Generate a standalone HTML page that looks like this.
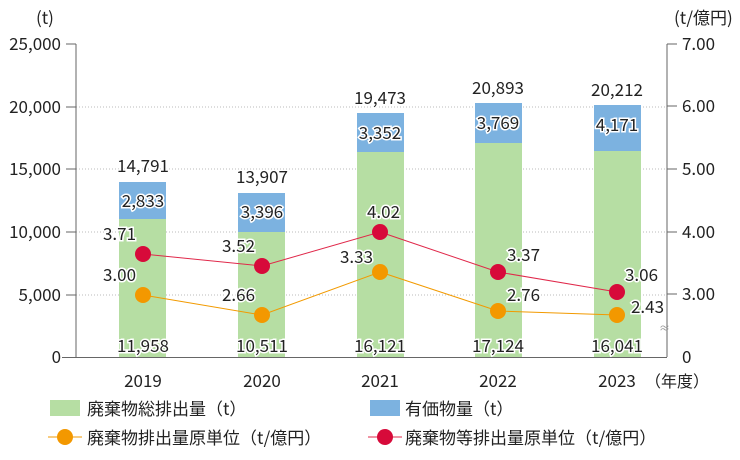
<!DOCTYPE html>
<html><head><meta charset="utf-8"><style>
html,body{margin:0;padding:0;background:#fff;}
svg{display:block;font-family:"Noto Sans CJK JP","Liberation Sans",sans-serif;}
</style></head><body>
<svg width="740" height="460" viewBox="0 0 740 460" xmlns="http://www.w3.org/2000/svg">
<g stroke="#bbb" stroke-dasharray="1,2" stroke-width="1">
<line x1="76" y1="295" x2="667" y2="295"/><line x1="76" y1="232" x2="667" y2="232"/>
<line x1="76" y1="169" x2="667" y2="169"/><line x1="76" y1="107" x2="667" y2="107"/>
</g>
<g>
<rect x="119" y="219" width="47" height="138" fill="#b6dea3"/><rect x="119" y="182" width="47" height="37" fill="#7cb2e0"/>
<rect x="238" y="232" width="47" height="125" fill="#b6dea3"/><rect x="238" y="193" width="47" height="39" fill="#7cb2e0"/>
<rect x="357" y="152" width="47" height="205" fill="#b6dea3"/><rect x="357" y="113" width="47" height="39" fill="#7cb2e0"/>
<rect x="475" y="143" width="47" height="214" fill="#b6dea3"/><rect x="475" y="103" width="47" height="40" fill="#7cb2e0"/>
<rect x="594" y="151" width="47" height="206" fill="#b6dea3"/><rect x="594" y="105" width="47" height="46" fill="#7cb2e0"/>
</g>
<g stroke="#666" stroke-width="1" fill="none">
<line x1="76" y1="44" x2="76" y2="357"/><line x1="667" y1="44" x2="667" y2="357"/>
<line x1="62" y1="357.5" x2="667" y2="357.5"/>
<line x1="66" y1="44" x2="76" y2="44"/><line x1="66" y1="107" x2="76" y2="107"/><line x1="66" y1="169" x2="76" y2="169"/><line x1="66" y1="232" x2="76" y2="232"/><line x1="66" y1="295" x2="76" y2="295"/>
<line x1="667" y1="44" x2="677" y2="44"/><line x1="667" y1="106" x2="677" y2="106"/><line x1="667" y1="169" x2="677" y2="169"/><line x1="667" y1="232" x2="677" y2="232"/><line x1="667" y1="294" x2="677" y2="294"/>
</g>
<text x="659" y="332" font-size="11" fill="#999">≈</text>
<g font-size="17" fill="#222" text-anchor="end">
<text x="61" y="50">25,000</text><text x="61" y="113">20,000</text><text x="61" y="175">15,000</text><text x="61" y="238">10,000</text><text x="61" y="301">5,000</text><text x="61" y="363">0</text>
</g>
<g font-size="17" fill="#222">
<text x="682" y="50">7.00</text><text x="682" y="112">6.00</text><text x="682" y="175">5.00</text><text x="682" y="238">4.00</text><text x="682" y="300">3.00</text><text x="682" y="363">0</text>
<text x="36" y="24">(t)</text><text x="674" y="24">(t/億円)</text>
</g>
<g font-size="17" fill="#222" text-anchor="middle">
<text x="143" y="387">2019</text><text x="262" y="387">2020</text><text x="380" y="387">2021</text><text x="498" y="387">2022</text><text x="617" y="387">2023</text>
</g>
<text x="645" y="387" font-size="16" fill="#222">（年度）</text>
<g font-size="17" fill="#222" text-anchor="middle" stroke="#fff" stroke-width="3" paint-order="stroke">
<text x="143" y="172">14,791</text><text x="262" y="183">13,907</text><text x="380" y="104">19,473</text><text x="498" y="94">20,893</text><text x="617" y="96">20,212</text>
<text x="143" y="207">2,833</text><text x="262" y="218">3,396</text><text x="380" y="139">3,352</text><text x="498" y="129">3,769</text><text x="617" y="131">4,171</text>
<text x="143" y="352">11,958</text><text x="262" y="352">10,511</text><text x="380" y="352">16,121</text><text x="498" y="352">17,124</text><text x="617" y="352">16,041</text>
</g>
<polyline points="143,254 262,266 380,232 498,272 617,292" fill="none" stroke="#e0284a" stroke-width="1"/>
<polyline points="143,295 262,315 380,272 498,311 617,315" fill="none" stroke="#f29a00" stroke-width="1"/>
<g fill="#d70a3a"><circle cx="143" cy="254" r="8"/><circle cx="262" cy="266" r="8"/><circle cx="380" cy="232" r="8"/><circle cx="498" cy="272" r="8"/><circle cx="617" cy="292" r="8"/></g>
<g fill="#f39800"><circle cx="143" cy="295" r="8"/><circle cx="262" cy="315" r="8"/><circle cx="380" cy="272" r="8"/><circle cx="498" cy="311" r="8"/><circle cx="617" cy="315" r="8"/></g>
<g font-size="17" fill="#222" stroke="#fff" stroke-width="3" paint-order="stroke">
<text x="103" y="240">3.71</text><text x="222" y="252">3.52</text><text x="367" y="218">4.02</text><text x="507" y="261">3.37</text><text x="625" y="281">3.06</text>
<text x="103" y="281">3.00</text><text x="222" y="301">2.66</text><text x="340" y="263">3.33</text><text x="507" y="301">2.76</text><text x="631" y="313">2.43</text>
</g>
<rect x="50" y="400" width="30" height="16" fill="#b6dea3"/>
<text x="87" y="415" font-size="17" fill="#222">廃棄物総排出量（t）</text>
<rect x="370" y="400" width="30" height="16" fill="#7cb2e0"/>
<text x="405" y="415" font-size="17" fill="#222">有価物量（t）</text>
<line x1="48" y1="437" x2="82" y2="437" stroke="#f29a00"/><circle cx="65" cy="437" r="8" fill="#f39800"/>
<text x="87" y="444" font-size="17" fill="#222">廃棄物排出量原単位（t/億円）</text>
<line x1="368" y1="437" x2="402" y2="437" stroke="#e0284a"/><circle cx="385" cy="437" r="8" fill="#d70a3a"/>
<text x="405" y="444" font-size="17" fill="#222">廃棄物等排出量原単位（t/億円）</text>
</svg>
</body></html>
